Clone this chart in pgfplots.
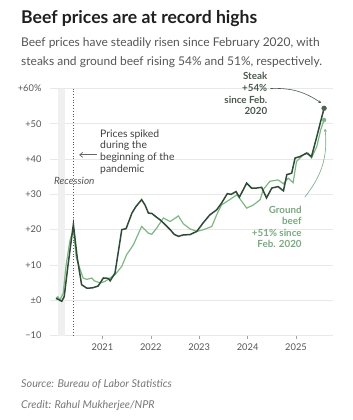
\documentclass[border=0pt]{standalone}
\usepackage{pgfplots}
\pgfplotsset{compat=1.18}
\usetikzlibrary{arrows.meta}
\usepackage{fontspec}
\setmainfont{Lato}
\definecolor{steak}{HTML}{2F4A37}
\definecolor{ground}{HTML}{7DB884}
\definecolor{txt}{HTML}{555555}
\definecolor{foot}{HTML}{777777}
\definecolor{steaklab}{HTML}{4A5A4E}
\definecolor{groundlab}{HTML}{78A97F}
\definecolor{gridc}{HTML}{E8E8E8}
\definecolor{band}{HTML}{F0F0F0}

\pgfplotstableread{
x v
2020.04 0.5
2020.08 0.3
2020.16 -0.3
2020.21 1
2020.29 10
2020.40 21.5
2020.48 12
2020.57 4.4
2020.68 3.4
2020.79 3.5
2020.91 4
2021.02 6.3
2021.12 6.2
2021.16 5.5
2021.26 7.7
2021.40 20
2021.49 20.3
2021.61 24.7
2021.69 26.5
2021.81 28.5
2021.88 27
2021.95 24.7
2022.02 24.6
2022.12 23.5
2022.19 22.8
2022.26 21.9
2022.40 20
2022.48 18.7
2022.57 18.1
2022.67 18.5
2022.81 18.6
2022.95 19.5
2023.08 21.9
2023.22 24.2
2023.36 25.6
2023.46 27.5
2023.58 30.2
2023.66 30
2023.76 30.8
2023.83 29.2
2023.98 33.2
2024.08 31.8
2024.19 31.8
2024.29 32
2024.39 29
2024.50 31.8
2024.63 32.2
2024.74 31
2024.81 35.6
2024.91 36
2024.98 40.3
2025.08 40.7
2025.22 41.7
2025.32 40.7
2025.43 46.4
2025.50 50.2
2025.58 54.4
}\steakdata

\pgfplotstableread{
x v
2020.04 0.5
2020.08 1
2020.12 0
2020.19 2
2020.25 10
2020.33 17
2020.40 20
2020.46 12
2020.60 6.3
2020.68 5.9
2020.78 6.3
2020.83 5.5
2020.95 4.9
2021.05 5.3
2021.26 7.2
2021.40 9.6
2021.50 12.9
2021.64 15.7
2021.81 20.9
2021.95 19
2022.02 18.7
2022.12 20.4
2022.26 23.3
2022.40 22.3
2022.57 23.9
2022.67 21.7
2022.81 20.2
2022.95 19.5
2023.09 20
2023.26 20.9
2023.36 24.2
2023.46 27
2023.63 28.5
2023.78 29.9
2023.98 26.1
2024.12 27
2024.26 28.5
2024.32 31.3
2024.46 33.7
2024.63 34.1
2024.74 33
2024.84 34.6
2024.94 33.3
2025.01 39.3
2025.15 41.2
2025.25 41.7
2025.32 40.3
2025.43 43.6
2025.51 48.3
2025.58 51.1
}\grounddata

\begin{document}
\begin{tikzpicture}
\useasboundingbox (0pt,0pt) rectangle (353pt,-420pt);
\node[anchor=base west, inner sep=0, font=\fontsize{17.6}{18}\selectfont\bfseries, text=black!88] at (21pt,-23.6pt) {Beef prices are at record highs};
\node[anchor=base west, inner sep=0, font=\fontsize{12}{13}\selectfont, text=txt] at (21pt,-46.9pt) {Beef prices have steadily risen since February 2020, with};
\node[anchor=base west, inner sep=0, font=\fontsize{12}{13}\selectfont, text=txt] at (21pt,-65.2pt) {steaks and ground beef rising 54\% and 51\%, respectively.};
\node[anchor=base west, inner sep=0, font=\fontsize{10.8}{11}\selectfont\itshape, text=foot] at (21pt,-387.5pt) {Source: Bureau of Labor Statistics};
\node[anchor=base west, inner sep=0, font=\fontsize{10.8}{11}\selectfont\itshape, text=foot] at (21pt,-408pt) {Credit: Rahul Mukherjee/NPR};

\begin{axis}[
  at={(50pt,-335.5pt)}, anchor=south west,
  scale only axis, width=283pt, height=247pt,
  xmin=2019.917, xmax=2025.764, ymin=-10, ymax=60,
  clip=false,
  axis line style={draw=none},
  ymajorgrids, major grid style={gridc, line width=0.8pt},
  ytick={-10,0,10,20,30,40,50,60},
  yticklabels={−10,±0,+10,+20,+30,+40,+50,+60\%},
  ytick style={draw=none},
  yticklabel style={font=\fontsize{9.3}{9}\selectfont, text=txt, xshift=-2pt},
  xtick={2021,2022,2023,2024,2025},
  xticklabels={2021,2022,2023,2024,2025},
  xtick pos=bottom, tick align=outside, major tick length=3pt,
  xtick style={gridc!70!black, line width=0.6pt},
  xticklabel style={font=\fontsize{9.3}{9}\selectfont, text=txt, yshift=-2pt},
]
\addplot[fill=band, draw=none] coordinates {(2020.09,-10) (2020.23,-10) (2020.23,60) (2020.09,60)} -- cycle;
\addplot[draw=black!65, dotted, line width=0.8pt] coordinates {(2020.41,-10) (2020.41,60)};
\addplot[ground, line width=1.2pt] table[x=x,y=v] {\grounddata};
\addplot[steak, line width=1.5pt] table[x=x,y=v] {\steakdata};
\addplot[only marks, mark=*, mark size=2pt, ground] coordinates {(2025.58,51.1)};
\addplot[only marks, mark=*, mark size=2.4pt, steak!85!white] coordinates {(2025.58,54.4)};

\node[font=\fontsize{10}{11}\selectfont\itshape, text=txt] at (axis cs:2020.42,33.9) {Recession};
\node[anchor=north west, inner sep=0, align=left, font=\fontsize{10.4}{11.6}\selectfont, text=black!75] at (axis cs:2020.95,48.4) {Prices spiked\\during the\\beginning of the\\pandemic};
\draw[black!60, line width=0.7pt, -{Straight Barb[length=3pt,width=5pt]}] (axis cs:2020.89,41.2) -- (axis cs:2020.52,41.2);
\node[anchor=north east, inner sep=0, align=right, font=\fontsize{9.8}{11.7}\selectfont\bfseries, text=steaklab] at (axis cs:2024.41,64.6) {Steak\\+54\%\\since Feb.\\2020};
\draw[steaklab, line width=0.6pt, -{Stealth[length=3pt,width=3pt]}] (axis cs:2024.47,60.0) to[bend left=18] (axis cs:2025.52,55.9);
\node[anchor=north east, inner sep=0, align=right, font=\fontsize{9.8}{11.5}\selectfont\bfseries, text=groundlab] at (axis cs:2025.12,26.8) {Ground\\beef\\+51\% since\\Feb. 2020};
\draw[groundlab, line width=0.6pt, -{Stealth[length=3pt,width=3pt]}] (axis cs:2025.18,29.2) to[bend right=22] (axis cs:2025.60,48.6);
\end{axis}
\end{tikzpicture}
\end{document}
